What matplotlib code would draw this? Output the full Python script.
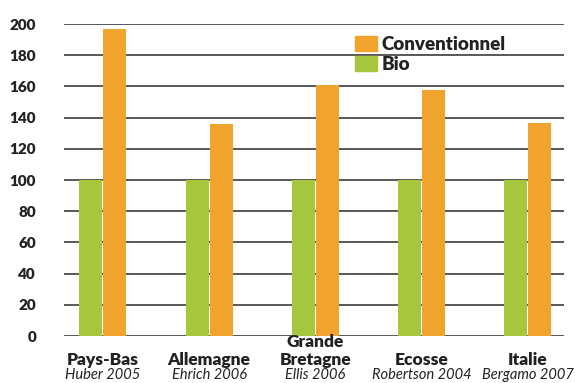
import numpy as np
import matplotlib.pyplot as plt
from matplotlib.patches import Patch

# Rendements par pays : conventionnel vs bio (bio = 100)
pays = ["Pays-Bas", "Allemagne", "Grande\nBretagne", "Ecosse", "Italie"]
sources = ["Huber 2005", "Ehrich 2006", "Ellis 2006", "Robertson 2004", "Bergamo 2007"]
bio = [100, 100, 100, 100, 100]
conventionnel = [197, 136, 161, 158, 136.5]

vert = "#a6c63d"
orange = "#f0a32d"

plt.rcParams['font.family'] = ['Lato', 'DejaVu Sans']

fig = plt.figure(figsize=(5.75, 3.83), dpi=100)
ax = fig.add_axes([0.111, 0.1227, 0.870, 0.8146])

x = np.arange(len(pays))
w = 0.216
ax.bar(x - w / 2 - 0.005, bio, width=w, color=vert, zorder=2)
ax.bar(x + w / 2 + 0.005, conventionnel, width=w, color=orange, zorder=2)

ax.set_xlim(-0.367, 4.34)
ax.set_ylim(0, 200)
ax.set_yticks(range(0, 201, 20))
ax.set_xticks([])
ax.yaxis.grid(True, color="#3c3c3c", linewidth=1.2, zorder=0)
ax.set_axisbelow(True)
for s in ax.spines.values():
    s.set_visible(False)
ax.tick_params(axis="y", length=0, pad=20, labelsize=11)
for t in ax.get_yticklabels():
    t.set_fontweight("heavy")
    t.set_color("#222222")

# noms des pays et sources sous les barres
tr = ax.get_xaxis_transform()
for xi, nom, src in zip(x, pays, sources):
    ax.text(xi, -0.102, nom, transform=tr, ha="center", va="bottom", linespacing=1.15,
            fontsize=12.5, fontweight="heavy", color="#222222", clip_on=False)
    ax.text(xi, -0.1474, src, transform=tr, ha="center", va="bottom",
            fontsize=10.5, fontstyle="italic", color="#222222", clip_on=False)

handles = [Patch(color=orange, label="Conventionnel"), Patch(color=vert, label="Bio")]
leg = ax.legend(handles=handles, loc="upper left", bbox_to_anchor=(0.582, 0.962),
                frameon=False, fontsize=13.5, handlelength=1.15, handleheight=0.85,
                handletextpad=0.25, labelspacing=0.15, borderpad=0, borderaxespad=0)
for t in leg.get_texts():
    t.set_fontweight("heavy")
    t.set_color("#222222")

fig.savefig("out.png", dpi=100)
